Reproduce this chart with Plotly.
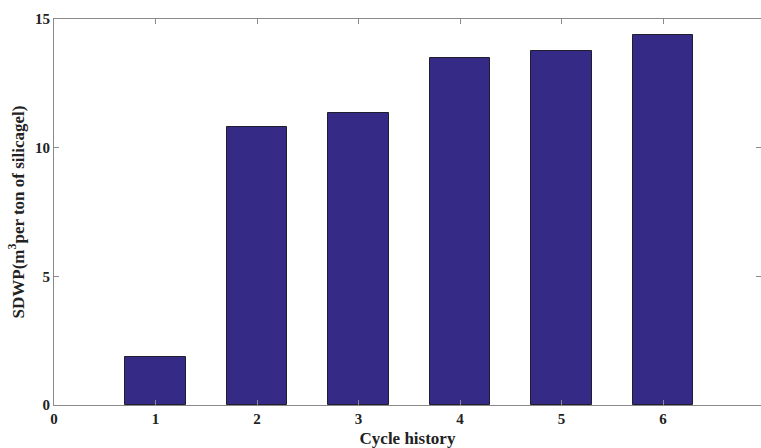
import plotly.graph_objects as go

cycles = [1, 2, 3, 4, 5, 6]
sdwp = [1.87, 10.82, 11.34, 13.48, 13.74, 14.37]
x_ticks = [0, 1, 2, 3, 4, 5, 6]
y_ticks = [0, 5, 10, 15]

FONT = "Liberation Serif"
AXC = "#8a8a8a"

fig = go.Figure()
fig.add_trace(go.Bar(
    x=cycles, y=sdwp, width=0.6,
    marker=dict(color="#352a86", line=dict(color="#1e1e2e", width=1)),
))

fig.update_layout(
    width=761, height=448,
    margin=dict(l=54, r=0, t=19, b=43),
    plot_bgcolor="white", paper_bgcolor="white",
    showlegend=False,
    font=dict(family=FONT, size=15, color="#222"),
    bargap=0,
)
fig.update_xaxes(
    range=[0, 707/101.5], tickvals=x_ticks, ticktext=[f"<b>{t}</b>" for t in x_ticks],
    showgrid=False, zeroline=False, showline=True, linecolor=AXC, linewidth=1,
    mirror="ticks", ticks="inside", ticklen=5, tickcolor=AXC,
    tickfont=dict(family=FONT, size=15, color="#222"),
    title=dict(text="<b>Cycle history</b>", font=dict(family=FONT, size=17, color="#222"), standoff=7),
)
fig.update_yaxes(
    range=[0, 15], tickvals=y_ticks, ticktext=[f"<b>{t}</b>" for t in y_ticks],
    showgrid=False, zeroline=False, showline=True, linecolor=AXC, linewidth=1,
    mirror="ticks", ticks="inside", ticklen=5, tickcolor=AXC,
    tickfont=dict(family=FONT, size=15, color="#222"),
    title=dict(text="<b>SDWP(m<sup>3</sup>per ton of silicagel)</b>",
               font=dict(family=FONT, size=17, color="#222"), standoff=6),
)

fig.write_html("out.html")
